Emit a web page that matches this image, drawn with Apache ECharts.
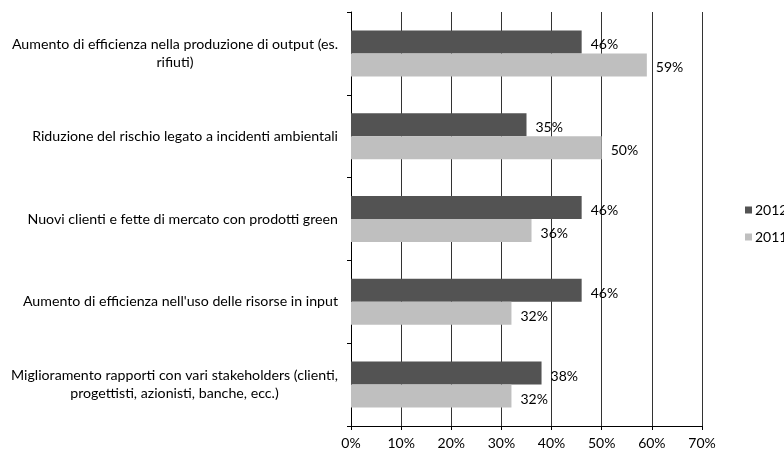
<!DOCTYPE html>
<html><head><meta charset="utf-8">
<script src="https://cdn.jsdelivr.net/npm/echarts@6/dist/echarts.min.js"></script>
<style>html,body{margin:0;padding:0;background:#fff}#c{width:784px;height:450px}</style>
</head><body><div id="c"></div>
<script>
var categories = [
  "Aumento di efficienza nella produzione di output (es.\nrifiuti)",
  "Riduzione del rischio legato a incidenti ambientali",
  "Nuovi clienti e fette di mercato con prodotti green",
  "Aumento di efficienza nell'uso delle risorse in input",
  "Miglioramento rapporti con vari stakeholders (clienti,\nprogettisti, azionisti, banche, ecc.)"
];
var values2012 = [46, 35, 46, 46, 38];
var values2011 = [59, 50, 36, 32, 32];
var xTicks = [0, 10, 20, 30, 40, 50, 60, 70];

var FONT = 'Lato';
var chart = echarts.init(document.getElementById('c'));
var lbl = {show: true, position: 'right', distance: 9, offset: [0, 3], formatter: '{c}%', color: '#000', fontFamily: FONT, fontSize: 14};
chart.setOption({
  animation: false,
  textStyle: {fontFamily: FONT},
  grid: {left: 351, right: 82, top: 12, bottom: 24, containLabel: false},
  legend: {
    orient: 'vertical', left: 745, top: 202, itemWidth: 7, itemHeight: 7, itemGap: 11, padding: 0,
    icon: 'rect', textStyle: {fontFamily: FONT, fontSize: 14, lineHeight: 16, color: '#000', padding: [0,0,0,-2]},
    data: ['2012', '2011']
  },
  xAxis: {
    type: 'value', min: xTicks[0], max: xTicks[xTicks.length - 1], interval: 10,
    axisLine: {show: true, lineStyle: {color: '#000', width: 1}},
    axisTick: {show: true, length: 4, lineStyle: {color: '#000'}},
    splitLine: {show: true, lineStyle: {color: '#333', width: 1}},
    axisLabel: {formatter: '{value}%', color: '#000', fontFamily: FONT, fontSize: 14, margin: 10}
  },
  yAxis: {
    type: 'category', inverse: true, data: categories,
    axisLine: {show: true, lineStyle: {color: '#000', width: 1}},
    axisTick: {show: true, length: 4, lineStyle: {color: '#000'}},
    axisLabel: {
      align: 'right', margin: 13,
      formatter: function (v) {
        return v.split('\n').map(function (s) { return '{c|' + s + '}'; }).join('\n');
      },
      rich: {c: {align: 'center', color: '#000', fontFamily: FONT, fontSize: 14.2, lineHeight: 18}}
    }
  },
  series: [
    {name: '2012', type: 'bar', data: values2012, barWidth: 23, barGap: '0%', itemStyle: {color: '#535353'}, label: lbl},
    {name: '2011', type: 'bar', data: values2011, barWidth: 23, barGap: '0%', itemStyle: {color: '#bfbfbf'}, label: lbl}
  ]
});
</script></body></html>
